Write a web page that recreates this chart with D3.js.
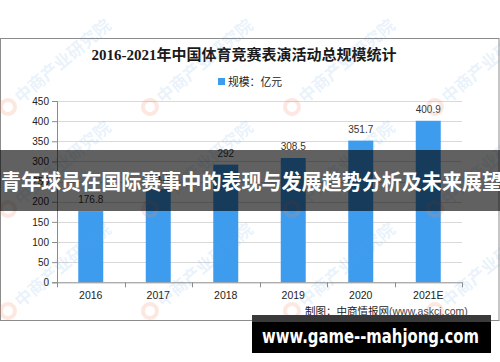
<!DOCTYPE html>
<html>
<head>
<meta charset="utf-8">
<script src="https://cdn.jsdelivr.net/npm/d3@7"></script>
<style>
  html, body { margin: 0; padding: 0; background: #fff; }
  svg { display: block; }
</style>
</head>
<body>
<div id="chartContainer"></div>
<script>
// Chart data
const years = ["2016", "2017", "2018", "2019", "2020", "2021E"];
const values = [176.8, 231.9, 292, 308.5, 351.7, 400.9];
const valueLabels = ["176.8", "231.9", "292", "308.5", "351.7", "400.9"];
const yTicks = [0, 50, 100, 150, 200, 250, 300, 350, 400, 450];

const titleText = "2016-2021年中国体育竞赛表演活动总规模统计";
const legendText = "规模：亿元";
const sourceText = "制图：中商情报网";
const sourceUrl = "(www.askci.com)";
const bannerText = "青年球员在国际赛事中的表现与发展趋势分析及未来展望";
const siteText = "www.game--mahjong.com";
const watermarkText = "中商产业研究院";

function createChart() {
    const width = 500;
    const height = 362;
    const marginTop = 101;
    const marginLeft = 57;
    const plotRight = 462;
    const plotBottom = 282.3;
    const barColor = "#3d9cee";
    const cjk = "'Noto Sans CJK SC', 'Noto Sans', sans-serif";
    const sans = "'Liberation Sans', Arial, sans-serif";

    const x = d3.scaleBand()
        .domain(years)
        .range([marginLeft, plotRight])
        .paddingInner(0.63)
        .paddingOuter(0.315);

    const y = d3.scaleLinear()
        .domain([0, 450])
        .range([plotBottom, marginTop]);

    const svg = d3.create("svg")
        .attr("viewBox", [0, 0, width, height])
        .attr("width", width)
        .attr("height", height);

    // chart frame
    svg.append("rect")
        .attr("x", 0.5).attr("y", 38.5)
        .attr("width", 498.5).attr("height", 282)
        .attr("fill", "#fff")
        .attr("stroke", "#8c8c8c");

    // title
    svg.append("text")
        .attr("x", 244).attr("y", 60)
        .attr("text-anchor", "middle")
        .attr("font-family", "'Liberation Serif', 'Noto Sans CJK SC', serif")
        .attr("font-weight", "bold")
        .attr("font-size", 15)
        .attr("fill", "#1a1a1a")
        .text(titleText);

    // legend
    svg.append("rect")
        .attr("x", 218).attr("y", 78)
        .attr("width", 7).attr("height", 7)
        .attr("fill", barColor);
    svg.append("text")
        .attr("x", 228).attr("y", 85.5)
        .attr("font-family", cjk)
        .attr("font-size", 10.8)
        .attr("fill", "#222")
        .text(legendText);

    // gridlines
    svg.append("g")
        .selectAll("line")
        .data(yTicks.slice(1))
        .join("line")
        .attr("x1", marginLeft).attr("x2", plotRight)
        .attr("y1", d => Math.round(y(d)) + 0.5)
        .attr("y2", d => Math.round(y(d)) + 0.5)
        .attr("stroke", "#d9d9d9");

    // y axis
    svg.append("g")
        .attr("transform", `translate(${marginLeft},0)`)
        .call(d3.axisLeft(y).tickValues(yTicks).tickSize(5).tickPadding(3))
        .call(g => g.select(".domain").attr("stroke", "#8c8c8c"))
        .call(g => g.selectAll(".tick line").attr("stroke", "#8c8c8c"))
        .call(g => g.selectAll("text")
            .attr("font-family", sans)
            .attr("font-size", 10)
            .attr("fill", "#222"));

    // bars
    svg.append("g")
        .selectAll("rect")
        .data(values)
        .join("rect")
        .attr("x", (d, i) => x(years[i]))
        .attr("y", d => y(d))
        .attr("width", x.bandwidth())
        .attr("height", d => y(0) - y(d))
        .attr("fill", barColor);

    // value labels
    svg.append("g")
        .selectAll("text")
        .data(values)
        .join("text")
        .attr("x", (d, i) => x(years[i]) + x.bandwidth() / 2)
        .attr("y", d => y(d) - 8)
        .attr("text-anchor", "middle")
        .attr("font-family", sans)
        .attr("font-size", 10)
        .attr("fill", "#333")
        .text((d, i) => valueLabels[i]);

    // x axis
    const xAxis = svg.append("g")
        .attr("transform", `translate(0,${plotBottom})`)
        .call(d3.axisBottom(x).tickSize(0).tickPadding(9).tickSizeOuter(0))
        .call(g => g.select(".domain").attr("stroke", "#8c8c8c"))
        .call(g => g.selectAll("text")
            .attr("font-family", sans)
            .attr("font-size", 10.5)
            .attr("fill", "#222"));
    xAxis.selectAll(".bound")
        .data(d3.range(years.length + 1))
        .join("line")
        .attr("class", "bound")
        .attr("x1", i => Math.round(x.range()[0] + i * x.step()) + 0.5)
        .attr("x2", i => Math.round(x.range()[0] + i * x.step()) + 0.5)
        .attr("y1", 0).attr("y2", 5)
        .attr("stroke", "#8c8c8c");

    // source
    const src = svg.append("text")
        .attr("x", 305).attr("y", 315)
        .attr("font-family", cjk)
        .attr("font-size", 10.5)
        .attr("fill", "#222");
    src.append("tspan").text(sourceText);
    src.append("tspan")
        .attr("font-family", sans)
        .attr("font-size", 10.5)
        .attr("fill", "#444")
        .text(sourceUrl);

    // watermarks
    const wmX = [8, 150, 292, 435];
    const wmY = [107, 209, 311];
    const wm = svg.append("g").attr("pointer-events", "none");
    wmY.forEach(py => wmX.forEach(px => {
        const g = wm.append("g").attr("transform", `translate(${px},${py}) rotate(-40)`);
        g.append("circle").attr("r", 7).attr("fill", "none")
            .attr("stroke", "rgba(240,140,100,0.2)").attr("stroke-width", 4);
        g.append("text")
            .attr("x", 12).attr("y", 6)
            .attr("font-family", cjk)
            .attr("font-weight", "bold")
            .attr("font-size", 17)
            .attr("fill", "rgba(90,160,225,0.15)")
            .text(watermarkText);
    }));

    // dark banner
    svg.append("rect")
        .attr("x", 0).attr("y", 150)
        .attr("width", width).attr("height", 61)
        .attr("fill", "rgba(0,0,0,0.62)");
    svg.append("text")
        .attr("x", 1).attr("y", 189)
        .attr("font-family", cjk)
        .attr("font-weight", "bold")
        .attr("font-size", 21)
        .attr("textLength", 501)
        .attr("lengthAdjust", "spacingAndGlyphs")
        .attr("fill", "#fff")
        .text(bannerText);

    // site banner
    svg.append("rect")
        .attr("x", 252).attr("y", 315)
        .attr("width", 239).attr("height", 38)
        .attr("fill", "#000");
    svg.append("rect")
        .attr("x", 252).attr("y", 315)
        .attr("width", 239).attr("height", 7)
        .attr("fill", "#3a3a3a");
    svg.append("text")
        .attr("x", 262).attr("y", 343)
        .attr("font-family", "'DejaVu Sans', sans-serif")
        .attr("font-weight", "bold")
        .attr("font-size", 19)
        .attr("textLength", 217)
        .attr("lengthAdjust", "spacingAndGlyphs")
        .attr("fill", "#fff")
        .text(siteText);

    return svg.node();
}

document.getElementById("chartContainer").appendChild(createChart());
</script>
</body>
</html>
